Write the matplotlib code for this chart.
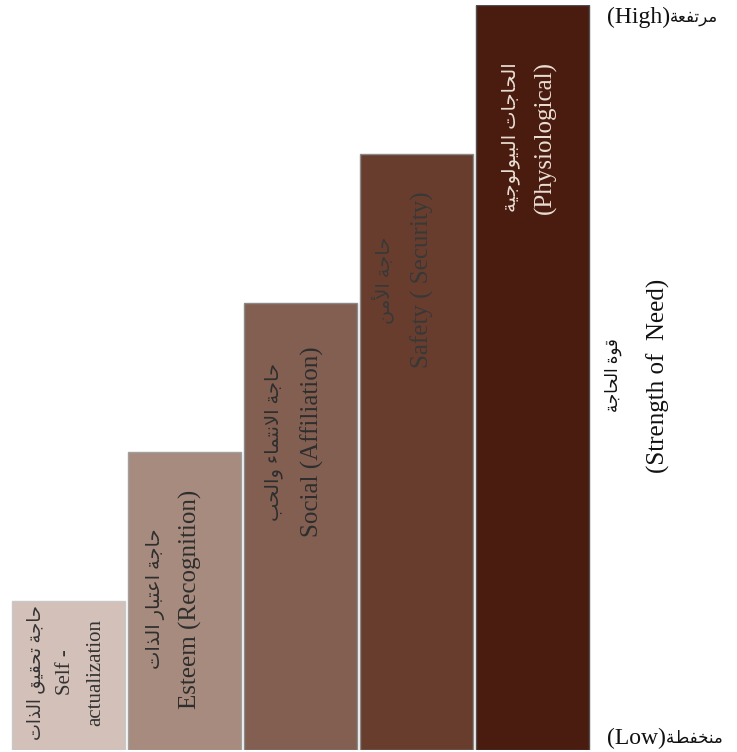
import matplotlib
matplotlib.use('Agg')
import matplotlib.pyplot as plt

# Arabic presentation forms: isolated, final, initial, medial
FORMS = {
    'ء': ('\uFE80', None, None, None),
    'أ': ('\uFE83', '\uFE84', None, None),
    'ا': ('\uFE8D', '\uFE8E', None, None),
    'ب': ('\uFE8F', '\uFE90', '\uFE91', '\uFE92'),
    'ة': ('\uFE93', '\uFE94', None, None),
    'ت': ('\uFE95', '\uFE96', '\uFE97', '\uFE98'),
    'ج': ('\uFE9D', '\uFE9E', '\uFE9F', '\uFEA0'),
    'ح': ('\uFEA1', '\uFEA2', '\uFEA3', '\uFEA4'),
    'خ': ('\uFEA5', '\uFEA6', '\uFEA7', '\uFEA8'),
    'ذ': ('\uFEAB', '\uFEAC', None, None),
    'ر': ('\uFEAD', '\uFEAE', None, None),
    'ض': ('\uFEBF', '\uFEC0', '\uFEC1', '\uFEC2'),
    'ع': ('\uFEC9', '\uFECA', '\uFECB', '\uFECC'),
    'ف': ('\uFED1', '\uFED2', '\uFED3', '\uFED4'),
    'ق': ('\uFED5', '\uFED6', '\uFED7', '\uFED8'),
    'ل': ('\uFEDD', '\uFEDE', '\uFEDF', '\uFEE0'),
    'م': ('\uFEE1', '\uFEE2', '\uFEE3', '\uFEE4'),
    'ن': ('\uFEE5', '\uFEE6', '\uFEE7', '\uFEE8'),
    'و': ('\uFEED', '\uFEEE', None, None),
    'ي': ('\uFEF1', '\uFEF2', '\uFEF3', '\uFEF4'),
}
LAM_ALEF = {'ا': ('\uFEFB', '\uFEFC'), 'أ': ('\uFEF7', '\uFEF8')}


def shape(text):
    # join letters and put them in visual (left to right) order
    out = []
    prev_joins = False
    i = 0
    while i < len(text):
        c = text[i]
        f = FORMS.get(c)
        if f is None:
            out.append(c)
            prev_joins = False
            i += 1
            continue
        nxt = text[i + 1] if i + 1 < len(text) else ''
        if c == 'ل' and nxt in LAM_ALEF:
            out.append(LAM_ALEF[nxt][1 if prev_joins else 0])
            prev_joins = False
            i += 2
            continue
        next_ok = f[2] is not None and FORMS.get(nxt, (None, None))[1] is not None
        if prev_joins and next_ok:
            g = f[3]
        elif prev_joins:
            g = f[1] or f[0]
        elif next_ok:
            g = f[2]
        else:
            g = f[0]
        out.append(g)
        prev_joins = next_ok
        i += 1
    return ''.join(reversed(out))


# Data
levels = [1, 2, 3, 4, 5]
arabic_labels = ['حاجة تحقيق الذات', 'حاجة اعتبار الذات', 'حاجة الانتماء والحب',
                 'حاجة الأمن', 'الحاجات البيولوجية']
english_labels = [['Self -', 'actualization'], ['Esteem (Recognition)'],
                  ['Social (Affiliation)'], ['Safety ( Security)'], ['(Physiological)']]
high_label = ('(High)', 'مرتفعة')
low_label = ('(Low)', 'منخفضة')
axis_label = ('قوة الحاجة', '(Strength of  Need)')

# Styles / layout
bar_colors = ['#d3c0b8', '#a78b7f', '#835f51', '#683d2e', '#4a1b0f']
edge_colors = ['#c8c8c8', '#a0a0a0', '#8a8a8a', '#8a8a8a', '#505050']
text_colors = ['#333333', '#2e2e2e', '#2e2e2e', '#383838', '#eadfd4']
col_dx = [[24, 54, 84], [28, 63], [30, 69], [23, 63], [35, 70]]  # px from bar left
center_dy = [71, 147, 139, 126, 132]  # px below bar top
eng_size = [15, 18, 18, 18, 18]
ar_size = [13, 14, 14, 14, 14]
serif = ['Liberation Serif', 'DejaVu Sans']
bar_w = 0.98

fig = plt.figure(figsize=(7.37, 7.52), dpi=100)
ax = fig.add_axes([10.5 / 737, 2 / 752, 580 / 737, 745 / 752])
ax.bar(range(len(levels)), levels, width=bar_w, color=bar_colors,
       edgecolor=edge_colors, linewidth=1.0)
ax.set_xlim(-0.5, len(levels) - 0.5)
ax.set_ylim(0, 5)
ax.axis('off')

for i, h in enumerate(levels):
    left = i - bar_w / 2
    lines = [(shape(arabic_labels[i]), ar_size[i])] + [(t, eng_size[i]) for t in english_labels[i]]
    for (txt, fs), dx in zip(lines, col_dx[i]):
        ax.annotate(txt, xy=(left, h), xytext=(dx, -center_dy[i]),
                    textcoords='offset pixels', rotation=90,
                    ha='center', va='center', fontsize=fs,
                    color=text_colors[i], family=serif)

# High / Low markers: English part, then the Arabic word right after it
for (eng, ar), ypx in [(high_label, 17), (low_label, 738)]:
    t = fig.text(607 / 737, 1 - ypx / 752, eng, ha='left', va='center',
                 fontsize=17, color='#111111', family=serif)
    fig.add_artist(plt.Annotation(shape(ar), xy=(1, 0.45), xycoords=t,
                                  ha='left', va='center', fontsize=12,
                                  color='#111111', family=serif))

fig.text(613 / 737, 1 - 375 / 752, shape(axis_label[0]), rotation=90,
         ha='center', va='center', fontsize=12, color='#111111', family=serif)
fig.text(658 / 737, 1 - 376 / 752, axis_label[1], rotation=90,
         ha='center', va='center', fontsize=18, color='#111111', family=serif)

fig.savefig('out.png', dpi=100)
